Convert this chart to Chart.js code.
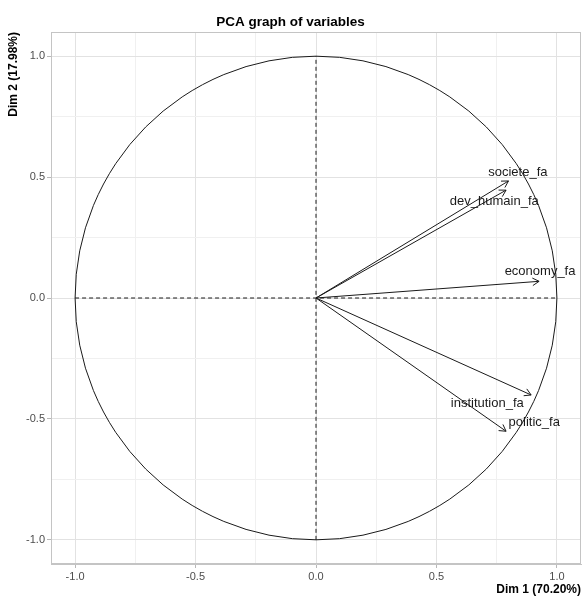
<!DOCTYPE html>
<html>
<head>
<meta charset="utf-8">
<script src="https://cdn.jsdelivr.net/npm/chart.js@4"></script>
<style>
  html, body { margin: 0; padding: 0; background: #fff; }
  canvas { display: block; }
</style>
</head>
<body>
<canvas id="pcaChart" width="583" height="596"></canvas>
<script>
// variables factor map
const variables = ['societe_fa', 'dev_humain_fa', 'economy_fa', 'institution_fa', 'politic_fa'];
const dim1 = [0.799, 0.789, 0.926, 0.893, 0.789];
const dim2 = [0.484, 0.446, 0.069, -0.401, -0.551];
// where the labels sit (repelled from the arrow tips)
const labelX = [0.838, 0.740, 0.930, 0.711, 0.906];
const labelY = [0.519, 0.401, 0.108, -0.435, -0.515];

const tickValues = [-1, -0.75, -0.5, -0.25, 0, 0.25, 0.5, 0.75, 1];
const axisTitles = ['Dim 1 (70.20%)', 'Dim 2 (17.98%)'];

const FONT = '"Liberation Sans", Arial, sans-serif';

function isMajor(v) {
    return Math.abs(v * 2 - Math.round(v * 2)) < 1e-6;
}

// panel border top/right + correlation circle
const panelPlugin = {
    id: 'panel',
    beforeDatasetsDraw(chart) {
        const { ctx, chartArea, scales } = chart;
        const cx = scales.x.getPixelForValue(0);
        const cy = scales.y.getPixelForValue(0);
        const rx = scales.x.getPixelForValue(1) - cx;
        const ry = cy - scales.y.getPixelForValue(1);
        ctx.save();
        ctx.strokeStyle = '#1a1a1a';
        ctx.lineWidth = 1;
        ctx.beginPath();
        ctx.ellipse(cx, cy, rx, ry, 0, 0, Math.PI * 2);
        ctx.stroke();
        ctx.restore();
    },
    afterDraw(chart) {
        const { ctx, chartArea } = chart;
        ctx.save();
        ctx.strokeStyle = '#c4c4c4';
        ctx.lineWidth = 1;
        ctx.strokeRect(chartArea.left + 0.5, chartArea.top + 0.5,
            chartArea.right - chartArea.left - 1, chartArea.bottom - chartArea.top - 1);
        ctx.restore();
    }
};

// arrow heads and variable names
const arrowPlugin = {
    id: 'arrows',
    afterDatasetsDraw(chart) {
        const { ctx, scales } = chart;
        ctx.save();
        ctx.strokeStyle = '#1a1a1a';
        ctx.lineWidth = 1;
        chart.data.datasets.forEach((ds, i) => {
            if (!ds.isArrow) return;
            const pts = chart.getDatasetMeta(i).data;
            const x0 = pts[0].x, y0 = pts[0].y, x1 = pts[1].x, y1 = pts[1].y;
            const ang = Math.atan2(y1 - y0, x1 - x0);
            const len = 7.5, spread = Math.PI / 6;
            ctx.beginPath();
            ctx.moveTo(x1 - len * Math.cos(ang - spread), y1 - len * Math.sin(ang - spread));
            ctx.lineTo(x1, y1);
            ctx.lineTo(x1 - len * Math.cos(ang + spread), y1 - len * Math.sin(ang + spread));
            ctx.stroke();
        });
        ctx.fillStyle = '#1a1a1a';
        ctx.font = '13px ' + FONT;
        ctx.textAlign = 'center';
        ctx.textBaseline = 'middle';
        variables.forEach((name, i) => {
            ctx.fillText(name, scales.x.getPixelForValue(labelX[i]), scales.y.getPixelForValue(labelY[i]));
        });
        ctx.restore();
    }
};

const datasets = variables.map((name, i) => ({
    label: name,
    isArrow: true,
    data: [{ x: 0, y: 0 }, { x: dim1[i], y: dim2[i] }],
    borderColor: '#1a1a1a',
    borderWidth: 1,
    pointRadius: 0,
    showLine: true
}));

datasets.push({
    label: 'h-axis',
    data: [{ x: -1, y: 0 }, { x: 1, y: 0 }],
    borderColor: '#1a1a1a',
    borderWidth: 1,
    borderDash: [4, 3],
    pointRadius: 0,
    showLine: true
}, {
    label: 'v-axis',
    data: [{ x: 0, y: -1 }, { x: 0, y: 1 }],
    borderColor: '#1a1a1a',
    borderWidth: 1,
    borderDash: [4, 3],
    pointRadius: 0,
    showLine: true
});

function gridOpts() {
    return {
        color: ctx => isMajor(ctx.tick.value) ? '#e2e2e2' : '#f0f0f0',
        lineWidth: 1,
        drawTicks: true,
        tickLength: 4,
        tickColor: ctx => isMajor(ctx.tick.value) ? '#b8b8b8' : 'rgba(0,0,0,0)'
    };
}

function tickOpts(pad) {
    return {
        color: '#4d4d4d',
        font: { family: FONT, size: 11 },
        padding: pad,
        autoSkip: false,
        maxRotation: 0,
        callback: v => isMajor(v) ? v.toFixed(1) : ''
    };
}

new Chart(document.getElementById('pcaChart'), {
    type: 'scatter',
    data: { datasets: datasets },
    plugins: [panelPlugin, arrowPlugin],
    options: {
        responsive: false,
        animation: false,
        layout: { padding: { left: 0, right: 2, top: 0, bottom: 0 } },
        plugins: {
            legend: { display: false },
            tooltip: { enabled: false },
            title: {
                display: true,
                text: 'PCA graph of variables',
                color: '#000',
                font: { family: FONT, size: 13.5, weight: 'bold', lineHeight: 1.2 },
                padding: { top: 14, bottom: 1.8 }
            }
        },
        scales: {
            x: {
                type: 'linear',
                min: -1.1,
                max: 1.1,
                afterBuildTicks: s => { s.ticks = tickValues.map(v => ({ value: v })); },
                afterFit: s => { s.height = 32; },
                grid: gridOpts(),
                border: { display: true, color: '#c4c4c4' },
                ticks: tickOpts(2),
                title: {
                    display: true,
                    text: axisTitles[0],
                    align: 'end',
                    color: '#000',
                    font: { family: FONT, size: 12, weight: 'bold', lineHeight: 1 },
                    padding: { top: 0, bottom: 0 }
                }
            },
            y: {
                type: 'linear',
                min: -1.1,
                max: 1.1,
                afterBuildTicks: s => { s.ticks = tickValues.map(v => ({ value: v })); },
                afterFit: s => { s.width = 51; },
                grid: gridOpts(),
                border: { display: true, color: '#c4c4c4' },
                ticks: tickOpts(2),
                title: {
                    display: true,
                    text: axisTitles[1],
                    align: 'end',
                    color: '#000',
                    font: { family: FONT, size: 12, weight: 'bold', lineHeight: 1 },
                    padding: { top: 8, bottom: 0 }
                }
            }
        }
    }
});
</script>
</body>
</html>
